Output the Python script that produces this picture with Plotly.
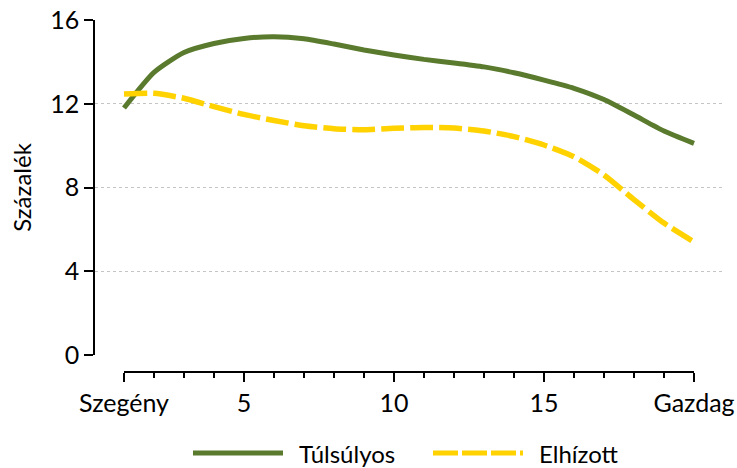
import plotly.graph_objects as go

# Data
deciles = list(range(1, 21))
tick_vals = [1, 5, 10, 15, 20]
tick_text = ["Szegény", "5", "10", "15", "Gazdag"]
y_ticks = [0, 4, 8, 12, 16]

tulsulyos = [11.8, 13.5, 14.45, 14.88, 15.12, 15.2, 15.1, 14.85, 14.57, 14.33,
             14.12, 13.95, 13.76, 13.48, 13.13, 12.74, 12.2, 11.46, 10.7, 10.11]
elhizott = [12.46, 12.5, 12.26, 11.86, 11.49, 11.2, 10.95, 10.81, 10.76, 10.83,
            10.87, 10.84, 10.7, 10.43, 10.03, 9.47, 8.6, 7.42, 6.3, 5.4]

series_names = ["Túlsúlyos", "Elhízott"]
colors = ["#5a7a2e", "#ffd200"]

W, H = 737, 468
FONT = "Lato"

def px_x(p):
    return p / W

def px_y(p):
    return 1 - p / H

# pixel geometry of reference
x_left, x_right = 95, 725      # plot area
x1_px, x20_px = 124, 694       # positions of decile 1 and 20
y16_px, y0_px = 20, 355
xaxis_line_px = 371

unit = (x20_px - x1_px) / (deciles[-1] - deciles[0])
xr0 = deciles[0] + (x_left - x1_px) / unit
xr1 = deciles[0] + (x_right - x1_px) / unit

fig = go.Figure()
fig.add_trace(go.Scatter(x=deciles, y=tulsulyos, name=series_names[0], mode="lines",
                         line=dict(color=colors[0], width=5, shape="spline", smoothing=0.6),
                         showlegend=False))
fig.add_trace(go.Scatter(x=deciles, y=elhizott, name=series_names[1], mode="lines",
                         line=dict(color=colors[1], width=5.5, dash="23px,6px",
                                   shape="spline", smoothing=0.6),
                         showlegend=False))
# invisible carrier for the bottom (decile) axis
fig.add_trace(go.Scatter(x=deciles, y=[0.5] * len(deciles), xaxis="x2", yaxis="y2",
                         mode="lines", line=dict(width=0), opacity=0,
                         hoverinfo="skip", showlegend=False))

# custom legend
leg_y = px_y(453)
legend_items = [(193, 283, 297), (433, 523, 537)]
for i, (a, b, t) in enumerate(legend_items):
    fig.add_shape(type="line", xref="paper", yref="paper",
                  x0=px_x(a), x1=px_x(b), y0=leg_y, y1=leg_y,
                  line=dict(color=colors[i], width=5,
                            dash="solid" if i == 0 else "25px,4px"))
    fig.add_annotation(xref="paper", yref="paper", x=px_x(t), y=leg_y,
                       text=series_names[i], showarrow=False, xanchor="left",
                       yanchor="middle", font=dict(size=24, color="black", family=FONT))

fig.update_layout(
    width=W, height=H,
    margin=dict(l=0, r=0, t=0, b=0, pad=0, autoexpand=False),
    paper_bgcolor="white", plot_bgcolor="white",
    font=dict(family=FONT, color="black"),
    xaxis=dict(domain=[px_x(x_left), px_x(x_right)], range=[xr0, xr1],
               visible=False, fixedrange=True, automargin=False),
    yaxis=dict(domain=[px_y(y0_px), px_y(y16_px)], range=[0, 16], automargin=False,
               tickvals=y_ticks, showline=True, linecolor="black", linewidth=1.5,
               ticks="outside", ticklen=9, tickwidth=1.5, tickcolor="black",
               showgrid=True, gridcolor="#c4c4c4", griddash="dot", gridwidth=1,
               zeroline=False, tickfont=dict(size=25),
               title=dict(text="Százalék", font=dict(size=24), standoff=12)),
    xaxis2=dict(domain=[px_x(x1_px), px_x(x20_px)], range=[deciles[0], deciles[-1]],
                anchor="y2", showline=True, linecolor="black", linewidth=1.5,
                automargin=False,
                ticks="outside", ticklen=9, tickwidth=1.5, tickcolor="black",
                tickvals=tick_vals, ticktext=tick_text, showgrid=False, zeroline=False,
                tickfont=dict(size=25),
                minor=dict(dtick=1, ticks="outside", ticklen=5, tickwidth=1.5,
                           tickcolor="black", showgrid=False)),
    yaxis2=dict(domain=[px_y(xaxis_line_px), px_y(xaxis_line_px) + 0.002],
                anchor="x2", visible=False, range=[0, 1], automargin=False),
)

fig.write_html("out.html", config={"displayModeBar": False},
               post_script="document.body.style.margin='0';document.body.style.overflow='hidden';")
